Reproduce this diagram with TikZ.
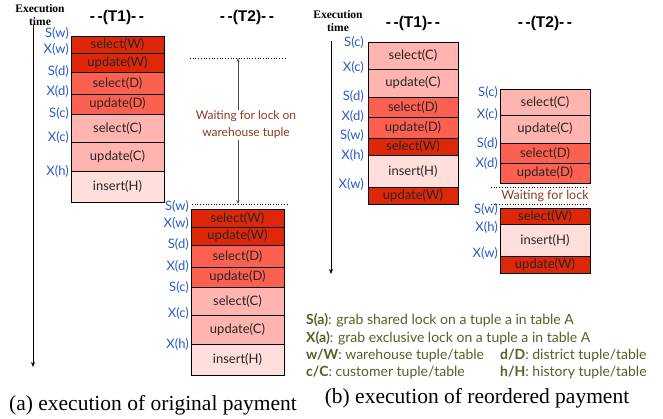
\documentclass[tikz,border=0pt]{standalone}
\usepackage{fontspec}
\setmainfont{Liberation Serif}
\newfontfamily\gillfont{Lato}
\newfontfamily\helvfont{Liberation Sans}
\usetikzlibrary{arrows.meta}
\definecolor{cW}{RGB}{222,38,8}
\definecolor{cD}{RGB}{252,96,80}
\definecolor{cC}{RGB}{255,180,176}
\definecolor{cH}{RGB}{255,222,220}
\definecolor{lblblue}{RGB}{40,90,200}
\definecolor{waitbrown}{RGB}{140,60,30}
\definecolor{legendgreen}{RGB}{80,98,40}
\newcommand\stackbox[7]{%
  \node[blk, fill=#6, minimum width={(#4-#2)*1pt}, minimum height={(#5-#3)*1pt}]
    (#1) at ({(#2+#4)/2},{(#3+#5)/2}) {#7};}
\begin{document}
\begin{tikzpicture}[x=1pt,y=-1pt,
  blk/.style={draw=black, line width=0.6pt, inner sep=0pt, outer sep=0pt,
    font=\gillfont\fontsize{13}{14}\selectfont, text=black!85},
  lbl/.style={anchor=east, inner sep=0pt, text=lblblue, font=\gillfont\fontsize{13}{14}\selectfont},
  ttl/.style={font=\helvfont\bfseries\fontsize{15.5}{17}\selectfont, inner sep=0pt},
  extime/.style={font=\bfseries\fontsize{11.5}{12.5}\selectfont, align=center, inner sep=0pt},
  axis/.style={line width=1pt, -{Stealth[length=5pt,width=4pt]}},
  dots/.style={dotted, line width=0.7pt},
  waittxt/.style={text=waitbrown, font=\gillfont\fontsize{12}{17}\selectfont, align=center, fill=white, inner sep=1pt},
  lg/.style={anchor=west, inner sep=0pt, text=legendgreen, font=\gillfont\fontsize{14}{16}\selectfont},
  captxt/.style={font=\fontsize{21.5}{24}\selectfont, inner sep=0pt}]
\useasboundingbox (0,0) rectangle (663,418);
% ---------- (a) ----------
\node[extime] (exa) at (40,15) {Execution\\time};
\coordinate (axa1) at (33,25);
\coordinate (axa2) at (33,367);
\draw[axis] (axa1) -- (axa2);
\node[ttl] (t1a) at (117,17) {-\,-(T1)-\,-};
\node[ttl] (t2a) at (247,17) {-\,-(T2)-\,-};
\stackbox{a1}{71}{36}{164}{53}{cW}{select(W)}
\stackbox{a2}{71}{53}{164}{72}{cW}{update(W)}
\stackbox{a3}{71}{72}{164}{94}{cD}{select(D)}
\stackbox{a4}{71}{94}{164}{114}{cD}{update(D)}
\stackbox{a5}{71}{114}{164}{142}{cC}{select(C)}
\stackbox{a6}{71}{142}{164}{171}{cC}{update(C)}
\stackbox{a7}{71}{171}{164}{202}{cH}{insert(H)}
\node[lbl] (la1) at (69,33) {S(w)};
\node[lbl] (la2) at (69,49) {X(w)};
\node[lbl] (la3) at (69,71) {S(d)};
\node[lbl] (la4) at (69,91) {X(d)};
\node[lbl] (la5) at (69,113) {S(c)};
\node[lbl] (la6) at (69,137) {X(c)};
\node[lbl] (la7) at (69,171) {X(h)};
% waiting
\coordinate (wl1) at (190,58);
\coordinate (wr1) at (287,58);
\coordinate (wl2) at (192,204);
\coordinate (wr2) at (287,204);
\draw[dots] (wl1) -- (wr1);
\draw[dots] (wl2) -- (wr2);
\coordinate (wa1) at (238,58);
\coordinate (wa2) at (238,204);
\draw[black!70, line width=0.6pt, {Stealth[length=4pt,width=3pt]}-{Stealth[length=4pt,width=3pt]}] (wa1) -- (wa2);
\node[waittxt] (wt) at (246,125) {Waiting for lock on\\warehouse tuple};
\stackbox{b1}{191}{209}{284}{227}{cW}{select(W)}
\stackbox{b2}{191}{227}{284}{245}{cW}{update(W)}
\stackbox{b3}{191}{245}{284}{267}{cD}{select(D)}
\stackbox{b4}{191}{267}{284}{287}{cD}{update(D)}
\stackbox{b5}{191}{287}{284}{315}{cC}{select(C)}
\stackbox{b6}{191}{315}{284}{344}{cC}{update(C)}
\stackbox{b7}{191}{344}{284}{375}{cH}{insert(H)}
\node[lbl] (lb1) at (189,206) {S(w)};
\node[lbl] (lb2) at (189,223) {X(w)};
\node[lbl] (lb3) at (189,244) {S(d)};
\node[lbl] (lb4) at (189,266) {X(d)};
\node[lbl] (lb5) at (189,287) {S(c)};
\node[lbl] (lb6) at (189,313) {X(c)};
\node[lbl] (lb7) at (189,344) {X(h)};
% ---------- (b) ----------
\node[extime] (exb) at (338,21) {Execution\\time};
\coordinate (axb1) at (331,41);
\coordinate (axb2) at (331,274);
\draw[axis] (axb1) -- (axb2);
\node[ttl] (t1b) at (413,23) {-\,-(T1)-\,-};
\node[ttl] (t2b) at (545,23) {-\,-(T2)-\,-};
\stackbox{c1}{368}{42}{458}{69}{cC}{select(C)}
\stackbox{c2}{368}{69}{458}{97}{cC}{update(C)}
\stackbox{c3}{368}{97}{458}{117}{cD}{select(D)}
\stackbox{c4}{368}{117}{458}{138}{cD}{update(D)}
\stackbox{c5}{368}{138}{458}{155}{cW}{select(W)}
\stackbox{c6}{368}{155}{458}{187}{cH}{insert(H)}
\stackbox{c7}{368}{187}{458}{204}{cW}{update(W)}
\node[lbl] (lc1) at (364,42) {S(c)};
\node[lbl] (lc2) at (364,67) {X(c)};
\node[lbl] (lc3) at (364,96) {S(d)};
\node[lbl] (lc4) at (364,116) {X(d)};
\node[lbl] (lc5) at (364,135) {S(w)};
\node[lbl] (lc6) at (364,155) {X(h)};
\node[lbl] (lc7) at (364,184) {X(w)};
\stackbox{d1}{500}{89}{590}{115}{cC}{select(C)}
\stackbox{d2}{500}{115}{590}{143}{cC}{update(C)}
\stackbox{d3}{500}{143}{590}{163}{cD}{select(D)}
\stackbox{d4}{500}{163}{590}{183}{cD}{update(D)}
\coordinate (vl1) at (491,187);
\coordinate (vr1) at (588,187);
\coordinate (vl2) at (491,204);
\coordinate (vr2) at (588,204);
\draw[dots] (vl1) -- (vr1);
\draw[dots] (vl2) -- (vr2);
\node[waittxt, fill=none, font=\gillfont\fontsize{12.5}{14}\selectfont] (wt2) at (545,196) {Waiting for lock};
\stackbox{d5}{500}{208}{590}{224}{cW}{select(W)}
\stackbox{d6}{500}{224}{590}{256}{cH}{insert(H)}
\stackbox{d7}{500}{256}{590}{273}{cW}{update(W)}
\node[lbl] (ld1) at (498,92) {S(c)};
\node[lbl] (ld2) at (498,114) {X(c)};
\node[lbl] (ld3) at (498,143) {S(d)};
\node[lbl] (ld4) at (498,163) {X(d)};
\node[lbl] (ld5) at (498,209) {S(w)};
\node[lbl] (ld6) at (498,227) {X(h)};
\node[lbl] (ld7) at (498,253) {X(w)};
% legend
\node[lg] (lg1) at (306,320) {\textbf{S(a)}: grab shared lock on a tuple a in table A};
\node[lg] (lg2) at (306,338) {\textbf{X(a)}: grab exclusive lock on a tuple a in table A};
\node[lg] (lg3) at (306,355) {\textbf{w/W}: warehouse tuple/table};
\node[lg] (lg4) at (306,372) {\textbf{c/C}: customer tuple/table};
\node[lg] (lg5) at (500,355) {\textbf{d/D}: district tuple/table};
\node[lg] (lg6) at (500,372) {\textbf{h/H}: history tuple/table};
% captions
\node[captxt] (capa) at (153,405) {(a) execution of original payment};
\node[captxt] (capb) at (477,398) {(b) execution of reordered payment};
\end{tikzpicture}
\end{document}
